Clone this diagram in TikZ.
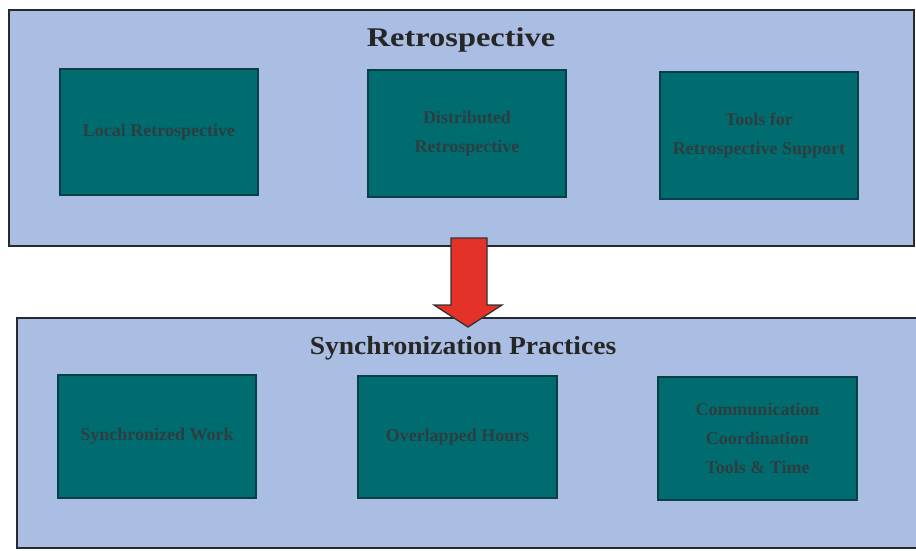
\documentclass[tikz,border=0pt]{standalone}
\usepackage{fontspec}
\setmainfont{Liberation Serif}
\newfontfamily\headA[FakeStretch=1.2]{Liberation Serif Bold}
\newfontfamily\headB[FakeStretch=1.06]{Liberation Serif Bold}
\definecolor{panelblue}{RGB}{170,189,226}
\definecolor{panelline}{RGB}{40,40,48}
\definecolor{tealbox}{RGB}{0,108,112}
\definecolor{tealline}{RGB}{12,62,72}
\definecolor{boxtext}{RGB}{45,62,64}
\definecolor{arrowred}{RGB}{228,50,40}
\tikzset{
  panel/.style={draw=panelline, line width=2pt, fill=panelblue},
  card/.style={draw=tealline, line width=1.5pt, fill=tealbox, inner sep=0pt,
    text=boxtext, align=center, font=\fontsize{18}{29}\selectfont\bfseries},
  heading/.style={text=black!85},
  flowarrow/.style={draw=black!80, line width=1.3pt, fill=arrowred, line join=miter}
}
\begin{document}
\begin{tikzpicture}[x=1pt,y=-1pt]
\useasboundingbox[fill=white] (0,0) rectangle (916,550);
% two panels
\path[panel] (9,10) rectangle (914,246);
\path[panel] (17,318) rectangle (922,548);
\node[heading, font=\headA\fontsize{27}{30}\selectfont] (t1) at (461,40) {Retrospective};
\node[heading, font=\headB\fontsize{26}{30}\selectfont] (t2) at (463,348) {Synchronization Practices};
% retrospective practices
\node[card, minimum width=198pt, minimum height=126pt] (r1) at (159,132) {Local Retrospective};
\node[card, minimum width=198pt, minimum height=127pt] (r2) at (467,133.5) {Distributed\\Retrospective};
\node[card, minimum width=198pt, minimum height=127pt] (r3) at (759,135.5) {Tools for\\Retrospective Support};
% synchronization practices
\node[card, minimum width=198pt, minimum height=123pt] (s1) at (157,436.5) {Synchronized Work};
\node[card, minimum width=199pt, minimum height=122pt] (s2) at (457.5,437) {Overlapped Hours};
\node[card, minimum width=199pt, minimum height=123pt] (s3) at (757.5,438.5) {Communication\\Coordination\\Tools \& Time};
% arrow from retrospective to synchronization
\draw[flowarrow] (451,238) -- (487,238) -- (487,305) -- (502,305) -- (468,327)
  -- (434,305) -- (451,305) -- cycle;
\end{tikzpicture}
\end{document}
